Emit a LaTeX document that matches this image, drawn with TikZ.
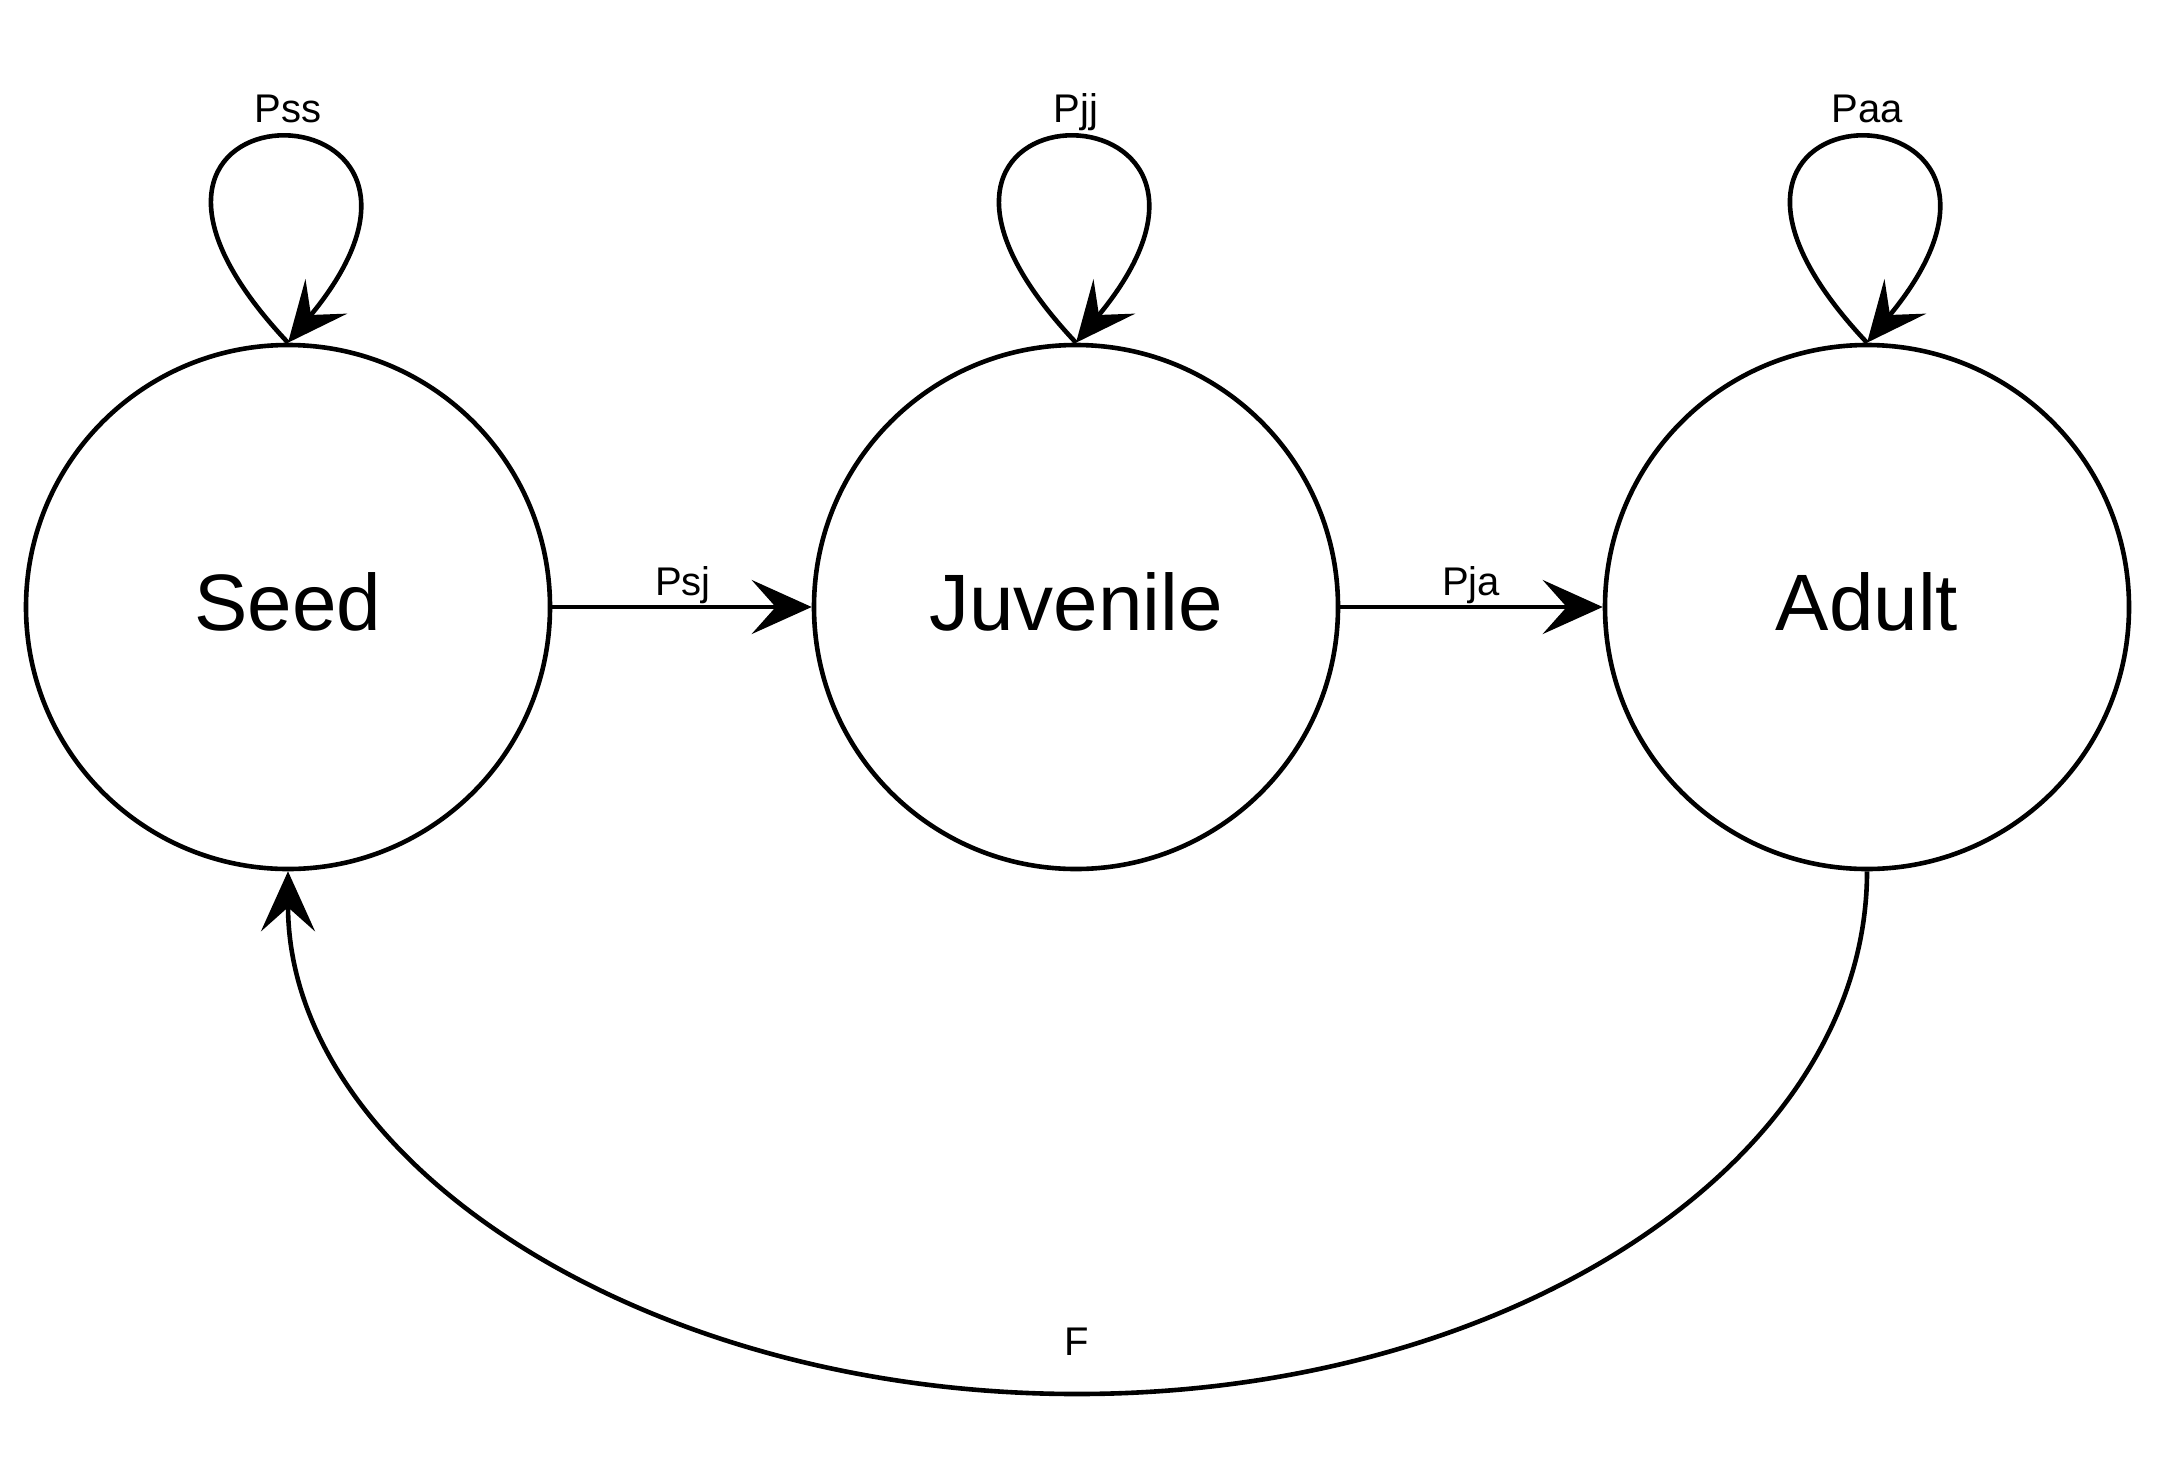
\documentclass[tikz,border=0pt]{standalone}
\usepackage{fontspec}
\setmainfont{Liberation Sans}
\usetikzlibrary{arrows.meta}
\begin{document}
\begin{tikzpicture}[x=0.5pt, y=-0.5pt,
  state/.style={circle, draw, line width=2.3pt, minimum size=262pt, inner sep=0pt},
  arr/.style={line width=2.3pt, -{Stealth[length=30pt,width=27pt,inset=12pt]}},
  biglbl/.style={font=\fontsize{40}{48}\selectfont, inner sep=0pt, anchor=base},
  smalllbl/.style={font=\fontsize{20}{24}\selectfont, inner sep=0pt, anchor=base}]
\useasboundingbox (0,0) rectangle (2162,1472);
% states
\node[state] (seed) at (288,607) {};
\node[state] (juv) at (1076,607) {};
\node[state] (adult) at (1867,607) {};
\node[biglbl] (seedtxt) at (288,630) {Seed};
\node[biglbl] (juvtxt) at (1076,630) {Juvenile};
\node[biglbl] (adulttxt) at (1867,630) {Adult};
% transitions
\draw[arr] (seed) -- (juv);
\draw[arr] (juv) -- (adult);
\node[smalllbl] (psj) at (683,595) {Psj};
\node[smalllbl] (pja) at (1471,595) {Pja};
% self loops
\draw[arr] (seed.north) .. controls +(-256,-272) and +(225,-272) .. (seed.north);
\draw[arr] (juv.north) .. controls +(-256,-272) and +(225,-272) .. (juv.north);
\draw[arr] (adult.north) .. controls +(-256,-272) and +(225,-272) .. (adult.north);
\node[smalllbl] (pss) at (288,122) {Pss};
\node[smalllbl] (pjj) at (1076,122) {Pjj};
\node[smalllbl] (paa) at (1867,122) {Paa};
% fecundity
\coordinate (fbot) at (1077,1394);
\draw[arr] (adult.south) .. controls +(0,289) and +(436,0) .. (fbot)
  .. controls +(-436,0) and +(0,289) .. (seed.south);
\node[smalllbl] (flbl) at (1077,1355) {F};
\end{tikzpicture}
\end{document}
